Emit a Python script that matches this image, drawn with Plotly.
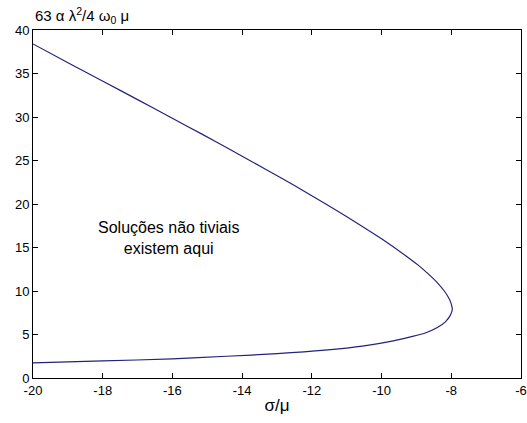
import plotly.graph_objects as go

# Boundary of the region of non-trivial solutions (sigma/mu vs. 63*alpha*lambda^2/(4*omega0*mu))
sigma_mu = [-20.0, -18.89, -17.94, -17.0, -16.07, -15.14, -14.23, -13.33, -12.45, -11.6,
            -10.78, -10.0, -9.29, -8.96, -8.67, -8.41, -8.2, -8.06, -8.0, -7.97,
            -8.03, -8.17, -8.4, -8.73, -9.2, -9.66, -10.5, -11.63, -13.0, -14.45,
            -16.0, -18.0, -20.0]
amp = [38.4, 36.0, 34.0, 32.0, 30.0, 28.0, 26.0, 24.0, 22.0, 20.0,
       18.0, 16.0, 14.0, 13.0, 12.0, 11.0, 10.0, 9.1, 8.5, 7.9,
       7.2, 6.45, 5.8, 5.2, 4.7, 4.27, 3.7, 3.2, 2.8, 2.5,
       2.2, 1.96, 1.75]

x_ticks = [-20, -18, -16, -14, -12, -10, -8, -6]
y_ticks = [0, 5, 10, 15, 20, 25, 30, 35, 40]

FONT = "Liberation Sans, Arial, sans-serif"

fig = go.Figure()
fig.add_trace(go.Scatter(
    x=sigma_mu, y=amp, mode="lines",
    line=dict(color="#23237a", width=1.2, shape="spline", smoothing=0.8),
    hoverinfo="skip", showlegend=False,
))

axis_font = dict(family=FONT, size=13, color="#000000")

fig.update_xaxes(
    range=[-20, -6], tickvals=x_ticks, ticktext=[str(v) for v in x_ticks],
    ticks="inside", ticklen=5, tickcolor="#000000", tickwidth=1,
    showline=True, linecolor="#000000", linewidth=1, mirror="ticks",
    showgrid=False, zeroline=False, tickfont=axis_font, ticklabeloverflow="allow",
    title=dict(text="σ/μ", font=dict(family=FONT, size=17, color="#000000"), standoff=2),
)
fig.update_yaxes(
    range=[0, 40], tickvals=y_ticks, ticktext=[str(v) for v in y_ticks],
    ticks="inside", ticklen=5, tickcolor="#000000", tickwidth=1,
    showline=True, linecolor="#000000", linewidth=1, mirror="ticks",
    showgrid=False, zeroline=False, tickfont=axis_font,
)

# Ordinate label written above the axes
fig.add_annotation(
    x=0.0, y=1.0, xref="paper", yref="paper", xanchor="left", yanchor="bottom",
    xshift=0, yshift=2,
    text="63 α λ<sup>2</sup>/4 ω<sub>0</sub> μ", showarrow=False,
    font=dict(family=FONT, size=15, color="#000000"),
)

# Region label
fig.add_annotation(
    x=-16.1, y=16.1, xref="x", yref="y", xanchor="center", yanchor="middle",
    text="Soluções não tiviais<br>existem aqui", showarrow=False, align="center",
    font=dict(family=FONT, size=16, color="#000000"),
)

fig.update_layout(
    width=527, height=423,
    margin=dict(l=33, r=0, t=30, b=45),
    paper_bgcolor="#ffffff", plot_bgcolor="#ffffff",
)

fig.write_html("out.html")
